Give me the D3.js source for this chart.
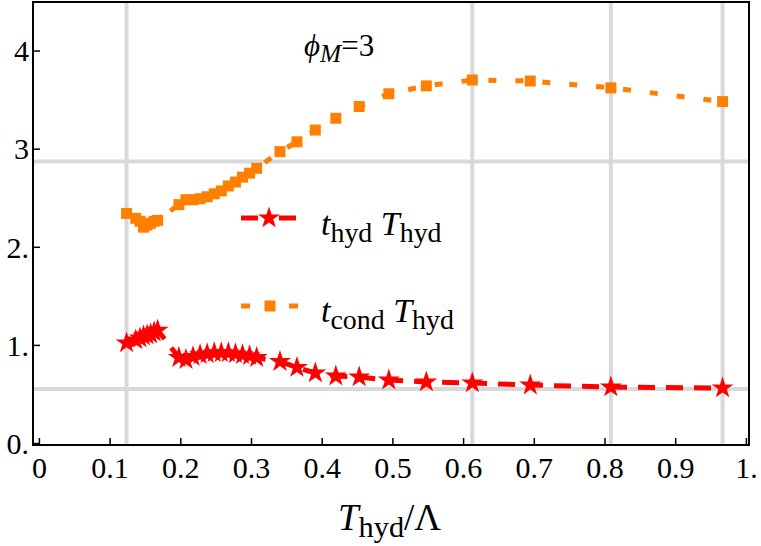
<!DOCTYPE html>
<html>
<head>
<meta charset="utf-8">
<script src="https://cdn.jsdelivr.net/npm/d3@7"></script>
<style>
  body { margin: 0; background: #fff; }
  text { font-family: "Liberation Serif", "DejaVu Serif", serif; fill: #000; }
</style>
</head>
<body>
<div id="chart"></div>
<script>
// data (x = T_hyd / Lambda)
var xValues = [0.124, 0.137, 0.143, 0.148, 0.153, 0.158, 0.163, 0.168,
  0.198, 0.208, 0.218, 0.228, 0.238, 0.248, 0.258, 0.268, 0.278, 0.288, 0.298, 0.308,
  0.341, 0.365, 0.391, 0.420, 0.453, 0.495, 0.548, 0.613, 0.695, 0.809, 0.967];

var tHyd = [1.02, 1.05, 1.07, 1.09, 1.10, 1.11, 1.13, 1.15,
  0.87, 0.85, 0.88, 0.90, 0.91, 0.92, 0.92, 0.92, 0.91, 0.90, 0.89, 0.87,
  0.83, 0.77, 0.714, 0.683, 0.673, 0.642, 0.622, 0.612, 0.591, 0.571, 0.561];

var tCond = [2.34, 2.29, 2.26, 2.20, 2.22, 2.24, 2.26, 2.27,
  2.43, 2.48, 2.48, 2.49, 2.51, 2.54, 2.57, 2.62, 2.66, 2.71, 2.75, 2.80,
  2.97, 3.07, 3.19, 3.31, 3.43, 3.56, 3.64, 3.70, 3.69, 3.62, 3.48];

var xTicks = [0, 0.1, 0.2, 0.3, 0.4, 0.5, 0.6, 0.7, 0.8, 0.9, 1];
var xTickLabels = ["0", "0.1", "0.2", "0.3", "0.4", "0.5", "0.6", "0.7", "0.8", "0.9", "1."];
var yTicks = [0, 1, 2, 3, 4];
var yTickLabels = ["0.", "1.", "2.", "3", "4"];

// gray grid lines
var xGrid = [0.124, 0.613, 0.809, 0.967];
var yGrid = [2.87, 0.55];

var width = 761, height = 546;
var frame = {left: 33, right: 749, top: 2, bottom: 445};

var svg = d3.select("#chart")
  .append("svg")
    .attr("width", width)
    .attr("height", height);

var x = d3.scaleLinear()
  .domain([-0.00835, 1.0044])
  .range([frame.left, frame.right]);

var y = d3.scaleLinear()
  .domain([-0.02, 4.495])
  .range([frame.bottom, frame.top]);

// grid
svg.append("g").selectAll("line").data(xGrid).enter().append("line")
  .attr("x1", function(d) { return x(d); }).attr("x2", function(d) { return x(d); })
  .attr("y1", frame.top).attr("y2", frame.bottom)
  .attr("stroke", "#d9d9d9").attr("stroke-width", 4);
svg.append("g").selectAll("line").data(yGrid).enter().append("line")
  .attr("y1", function(d) { return y(d); }).attr("y2", function(d) { return y(d); })
  .attr("x1", frame.left).attr("x2", frame.right)
  .attr("stroke", "#d9d9d9").attr("stroke-width", 4);

// axes (ticks point inwards)
var xAxis = svg.append("g")
  .attr("transform", "translate(0," + frame.bottom + ")")
  .call(d3.axisBottom(x).tickValues(xTicks).tickSizeInner(-7).tickSizeOuter(0)
    .tickPadding(12)
    .tickFormat(function(d, i) { return xTickLabels[i]; }));
var yAxis = svg.append("g")
  .attr("transform", "translate(" + frame.left + ",0)")
  .call(d3.axisLeft(y).tickValues(yTicks).tickSizeInner(-7).tickSizeOuter(0)
    .tickPadding(4)
    .tickFormat(function(d, i) { return yTickLabels[i]; }));
[xAxis, yAxis].forEach(function(a) {
  a.select(".domain").remove();
  a.selectAll("line").attr("stroke", "#000").attr("stroke-width", 1.5);
  a.selectAll("text").attr("font-size", 30).attr("font-family", "Liberation Serif");
});
xAxis.selectAll("text").attr("dy", "0.71em");
yAxis.selectAll("text").attr("dy", "0.34em");

// frame
svg.append("rect")
  .attr("x", frame.left).attr("y", frame.top)
  .attr("width", frame.right - frame.left).attr("height", frame.bottom - frame.top)
  .attr("fill", "none").attr("stroke", "#000").attr("stroke-width", 2);

var red = "#ff0000", orange = "#ff8000";

function line(vals) {
  return d3.line()
    .x(function(d, i) { return x(xValues[i]); })
    .y(function(d) { return y(d); })(vals);
}

// orange: dotted with squares
svg.append("path")
  .attr("d", line(tCond))
  .attr("fill", "none").attr("stroke", orange).attr("stroke-width", 5)
  .attr("stroke-dasharray", "8,19");
svg.append("g").selectAll("path").data(tCond).enter().append("path")
  .attr("transform", function(d, i) { return "translate(" + x(xValues[i]) + "," + y(d) + ")"; })
  .attr("d", d3.symbol().type(d3.symbolSquare).size(121))
  .attr("fill", orange);

// red: dashed with stars
svg.append("path")
  .attr("d", line(tHyd))
  .attr("fill", "none").attr("stroke", red).attr("stroke-width", 5)
  .attr("stroke-dasharray", "17,11");
svg.append("g").selectAll("path").data(tHyd).enter().append("path")
  .attr("transform", function(d, i) { return "translate(" + x(xValues[i]) + "," + y(d) + ")"; })
  .attr("d", d3.symbol().type(d3.symbolStar).size(150))
  .attr("fill", red);

// legend
var legend = svg.append("g");
legend.append("line").attr("x1", 241).attr("x2", 297).attr("y1", 218).attr("y2", 218)
  .attr("stroke", red).attr("stroke-width", 5).attr("stroke-dasharray", "17,21");
legend.append("path").attr("transform", "translate(269,218)")
  .attr("d", d3.symbol().type(d3.symbolStar).size(150)).attr("fill", red);
legend.append("line").attr("x1", 241).attr("x2", 299).attr("y1", 306).attr("y2", 306)
  .attr("stroke", orange).attr("stroke-width", 5).attr("stroke-dasharray", "9,39");
legend.append("path").attr("transform", "translate(270,306)")
  .attr("d", d3.symbol().type(d3.symbolSquare).size(121)).attr("fill", orange);

function subLabel(g, xPos, yPos, parts, size) {
  var t = g.append("text").attr("x", xPos).attr("y", yPos).attr("font-size", size);
  parts.forEach(function(p) {
    var s = t.append("tspan").text(p.t);
    if (p.italic) s.attr("font-style", "italic");
    if (p.sub) s.attr("font-size", size * 0.82).attr("dy", size * 0.2);
    if (p.up) s.attr("dy", -size * 0.2);
  });
  return t;
}

subLabel(legend, 321, 235, [
  {t: "t", italic: true}, {t: "hyd", sub: true},
  {t: " T", italic: true, up: true}, {t: "hyd", sub: true}], 34);
subLabel(legend, 321, 322, [
  {t: "t", italic: true}, {t: "cond", sub: true},
  {t: " T", italic: true, up: true}, {t: "hyd", sub: true}], 34);

// title inside plot
subLabel(svg, 304, 56, [
  {t: "\u03d5", italic: true}, {t: "M", italic: true, sub: true},
  {t: "=3", up: true}], 31);

// x axis title
subLabel(svg, 338, 530, [
  {t: "T", italic: true}, {t: "hyd", sub: true}, {t: "/\u039b", up: true}], 37);
</script>
</body>
</html>
